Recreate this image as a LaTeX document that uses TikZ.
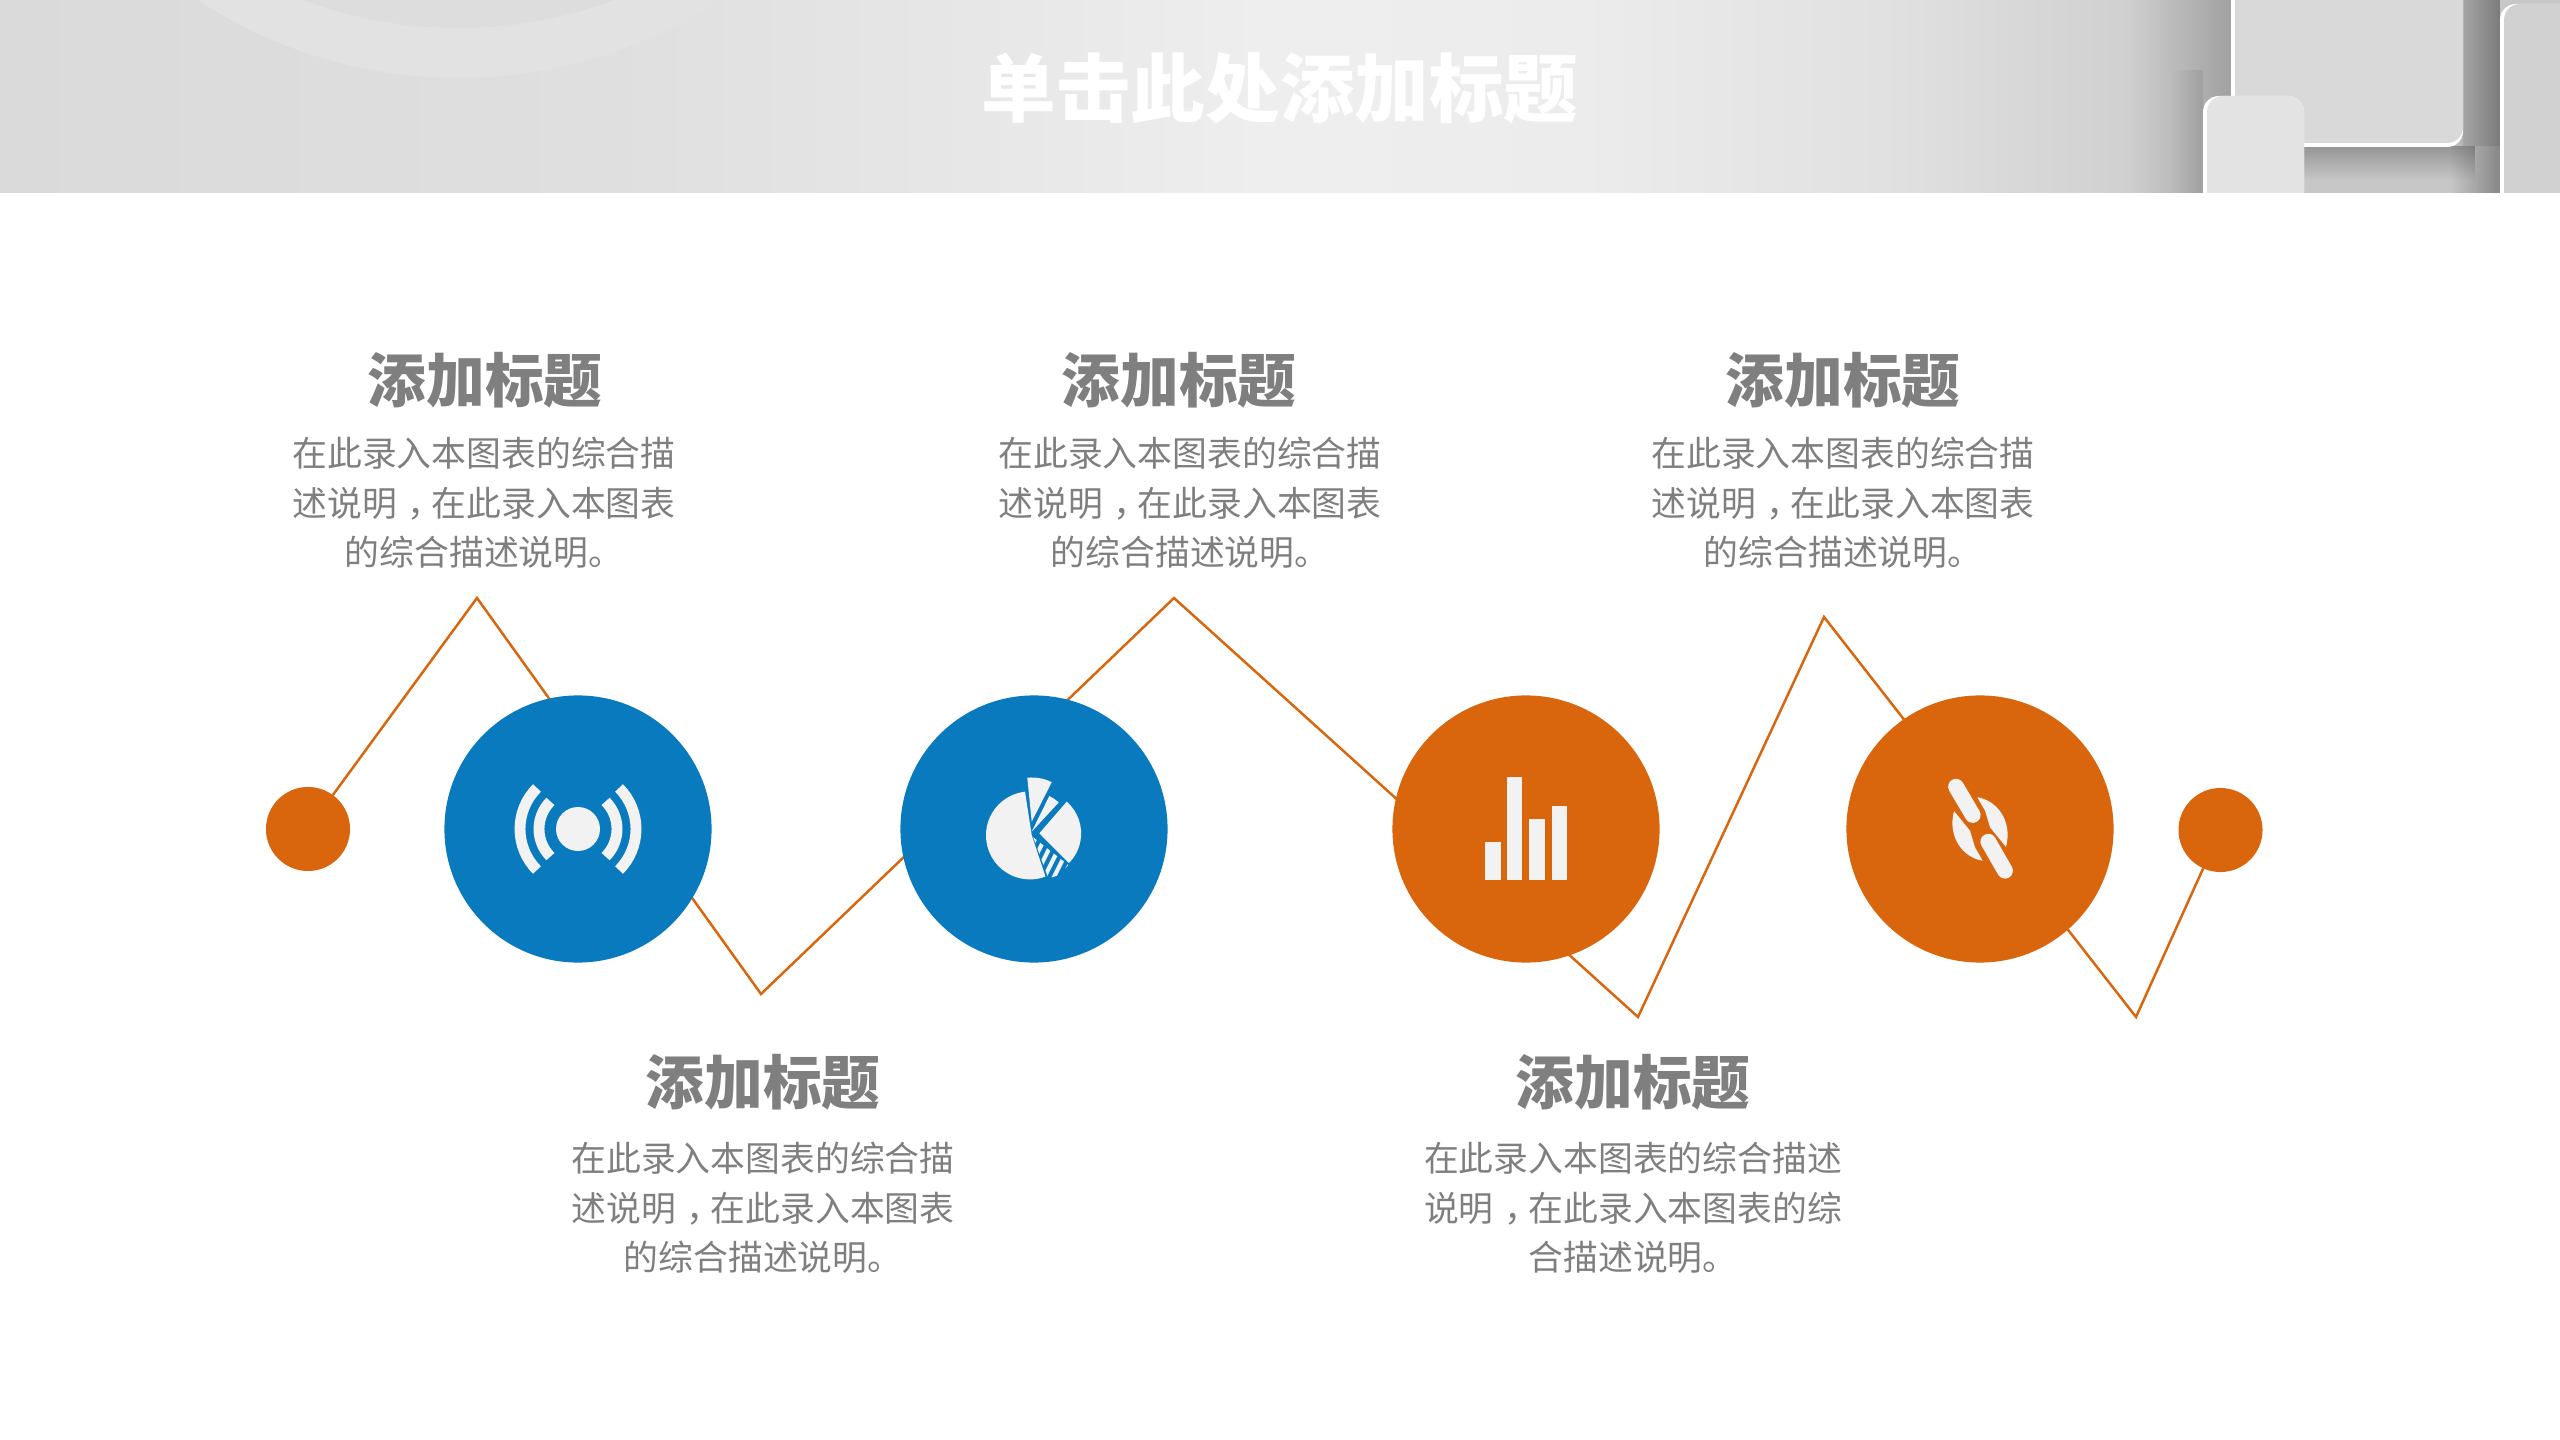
\documentclass[tikz,border=0pt]{standalone}
\usepackage{fontspec}
\setmainfont{Noto Sans CJK SC}
\usepackage{tikz}
\usetikzlibrary{fadings}
\definecolor{rustline}{HTML}{D9650C}
\definecolor{bluedisc}{HTML}{0A7ABF}
\definecolor{icongray}{HTML}{F2F2F2}
\definecolor{textgray}{HTML}{7F7F7F}
\pgfdeclarehorizontalshading{headshade}{100bp}{
  color(0bp)=(black!14.5); color(25bp)=(black!14.5); color(37bp)=(black!12.5); color(45bp)=(black!9);
  color(50bp)=(black!6.5); color(56bp)=(black!7.5); color(62bp)=(black!12); color(67bp)=(black!19); color(100bp)=(black!19)}
\newcommand{\midcomma}{\hspace{0.3em}^^^^ff0c\hspace{-0.3em}}
\tikzset{
  bigdisc/.style={circle, inner sep=0pt, outer sep=0pt, minimum size=2.67cm},
  smalldisc/.style={circle, fill=rustline, inner sep=0pt, outer sep=0pt, minimum size=0.84cm},
  zigline/.style={draw=rustline, line width=0.7pt},
  headtext/.style={text=textgray, font=\bfseries\fontsize{16.7}{20}\selectfont, inner sep=0pt},
  bodytext/.style={text=textgray, align=center, font=\fontsize{9.9}{14.15}\selectfont, inner sep=0pt},
  iconarc/.style={draw=icongray, line width=3.1pt},
  iconlink/.style={draw=icongray, line width=4.5pt, line cap=round},
  tile/.style={rounded corners=4.5pt}
}
\begin{document}
\begin{tikzpicture}[x=0.01cm, y=-0.01cm]
        \fill[white] (0,0) rectangle (2560,1440);
        % Header band
        \begin{scope}
        \clip (0,0) rectangle (2560,193);
        \shade[shading=headshade] (0,0) rectangle (2560,193);
        \fill[black!11.5] (459,-398) circle (476);
        \fill[black!13.5] (459,-415) circle (443);
        \shade[left color=black!19, right color=black!37] (2130,0) rectangle (2231,193);
        \fill[black, opacity=0.08, path fading=west] (2170,70) rectangle (2203,193);
        \fill[black!22] (2231,0) rectangle (2560,193);
        \fill[black!29] (2463,0) rectangle (2500,146);
        \fill[black, opacity=0.25, path fading=south] (2231,146) rectangle (2475,180);
        \fill[black, opacity=0.32, path fading=west] (2450,0) rectangle (2500,193);
        % Tiles
        \fill[white, tile] (2231,-30) rectangle (2463,147);
        \fill[black!15, tile] (2235,-30) rectangle (2463,143);
        \fill[white, tile] (2500,4) rectangle (2600,260);
        \fill[black!18, tile] (2504,4) rectangle (2600,256);
        \fill[white, tile] (2203,96) rectangle (2304,240);
        \fill[black!11, tile] (2207,96) rectangle (2304,236);
        \end{scope}
        \node[text=white, font=\bfseries\fontsize{21.2}{26}\selectfont, inner sep=0pt] (title) at (1280,88) {单击此处添加标题};

        % Zigzag line
        \node[smalldisc] (s1) at (308,829) {};
        \node[smalldisc] (s2) at (2220.5,830) {};
        \coordinate (p1) at (477,598);
        \coordinate (p2) at (761,994);
        \coordinate (p3) at (1174,598);
        \coordinate (p4) at (1638,1017);
        \coordinate (p5) at (1824,617);
        \coordinate (p6) at (2136,1017);
        \draw[zigline] (s1) -- (p1) -- (p2) -- (p3) -- (p4) -- (p5) -- (p6) -- (s2);

        % Discs
        \node[bigdisc, fill=bluedisc] (c1) at (578,829) {};
        \node[bigdisc, fill=bluedisc] (c2) at (1034,829) {};
        \node[bigdisc, fill=rustline] (c3) at (1526,829) {};
        \node[bigdisc, fill=rustline] (c4) at (1980,829) {};

        % Icon 1
        \fill[icongray] (c1) circle (22);
        \draw[iconarc] (c1) ++(135:39) arc (135:225:39);
        \draw[iconarc] (c1) ++(135:58) arc (135:225:58);
        \draw[iconarc] (c1) ++(45:39) arc (45:-45:39);
        \draw[iconarc] (c1) ++(45:58) arc (45:-45:58);

        % Icon 2
        \fill[icongray] (1031.7,835) -- (1025,791.7) arc (263.5:69.4:44) -- cycle;
        \fill[icongray] (1031.7,821.7) -- (1027.3,777.7) arc (264.3:296.6:44.7) -- cycle;
        \fill[icongray] (1031.7,831.7) -- (1049.3,796) arc (296.2:312.6:40) -- cycle;
        \fill[icongray] (1039.3,833.3) -- (1066.7,801.7) arc (-49:45:42) -- cycle;
        \begin{scope}
        \clip (1033.3,837.3) -- (1068.3,865) -- (1060,875) -- (1048.3,878.3) -- cycle;
        \foreach \dx in {1000,1009.5,...,1070} {
          \draw[icongray, line width=1.2pt] (\dx,890) -- ++(30,-60);
        }
        \end{scope}

        % Icon 3
        \fill[icongray] (1485,841.7) rectangle (1500.7,880);
        \fill[icongray] (1506.7,777.3) rectangle (1522.3,880);
        \fill[icongray] (1529.3,819) rectangle (1545.3,880);
        \fill[icongray] (1551.7,805.7) rectangle (1567.3,880);

        % Icon 4
        \draw[iconlink] (1956,786.7) -- (1972.7,815);
        \draw[iconlink] (1988.3,841.7) -- (2005,870.7);
        \fill[icongray] (1977.3,797.3) .. controls (1996,800) and (2013,820) .. (2006,847) -- (1990,827.3) -- (1985,810.7) -- cycle;
        \begin{scope}[rotate around={180:(1980,829)}]
        \fill[icongray] (1977.3,797.3) .. controls (1996,800) and (2013,820) .. (2006,847) -- (1990,827.3) -- (1985,810.7) -- cycle;
        \end{scope}

        % Labels
        \node[headtext] (h1) at (485,380) {添加标题};
        \node[headtext] (h2) at (1179,380) {添加标题};
        \node[headtext] (h3) at (1843,380) {添加标题};
        \node[headtext] (h4) at (763,1082) {添加标题};
        \node[headtext] (h5) at (1633,1082) {添加标题};
        \node[bodytext] (d1) at (484,503) {在此录入本图表的综合描\\述说明\midcomma 在此录入本图表\\的综合描述说明。};
        \node[bodytext] (d2) at (1190,503) {在此录入本图表的综合描\\述说明\midcomma 在此录入本图表\\的综合描述说明。};
        \node[bodytext] (d3) at (1843,503) {在此录入本图表的综合描\\述说明\midcomma 在此录入本图表\\的综合描述说明。};
        \node[bodytext] (d4) at (763,1208) {在此录入本图表的综合描\\述说明\midcomma 在此录入本图表\\的综合描述说明。};
        \node[bodytext] (d5) at (1633,1208) {在此录入本图表的综合描述\\说明\midcomma 在此录入本图表的综\\合描述说明。};
\end{tikzpicture}
\end{document}
